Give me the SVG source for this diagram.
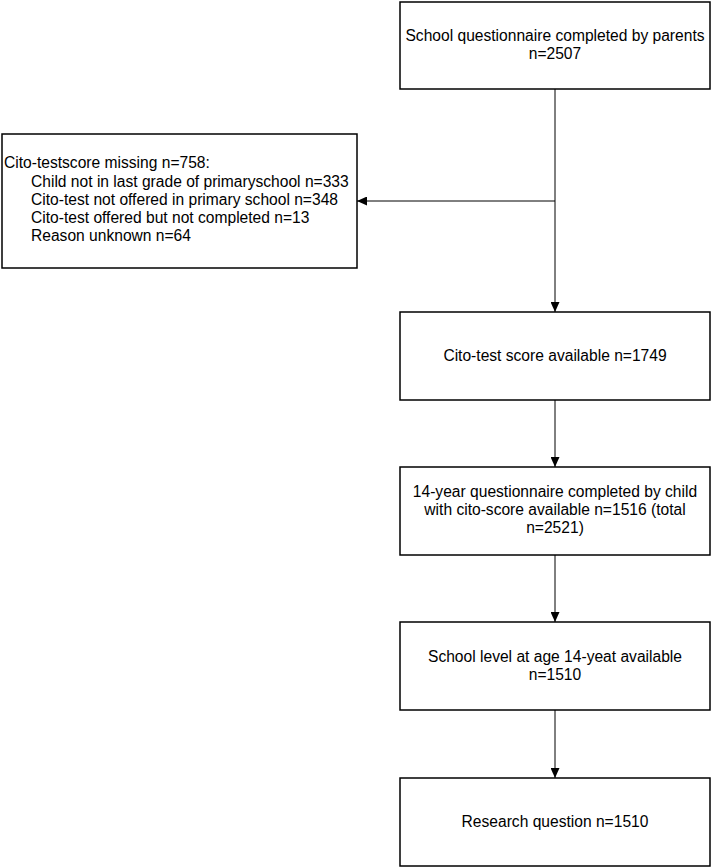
<svg xmlns="http://www.w3.org/2000/svg" width="712" height="868" viewBox="0 0 712 868">
<style>
.box{fill:#fff;stroke:#000;stroke-width:1.5}
text{font-family:"Liberation Sans",Arial,sans-serif;font-size:15.6px;fill:#000}
.c{text-anchor:middle}
.conn{stroke:#000;stroke-width:1;fill:none}
</style>
<defs>
<marker id="ah" markerWidth="10" markerHeight="9" refX="10" refY="4.5" orient="auto" markerUnits="userSpaceOnUse">
<path d="M0,0 L10,4.5 L0,9 Z" fill="#000"/>
</marker>
</defs>
<rect width="712" height="868" fill="#fff"/>
<g id="connectors">
<line class="conn" x1="555" y1="89" x2="555" y2="312" marker-end="url(#ah)"/>
<line class="conn" x1="555" y1="201" x2="357" y2="201" marker-end="url(#ah)"/>
<line class="conn" x1="555" y1="400" x2="555" y2="467" marker-end="url(#ah)"/>
<line class="conn" x1="555" y1="555" x2="555" y2="622" marker-end="url(#ah)"/>
<line class="conn" x1="555" y1="710" x2="555" y2="778" marker-end="url(#ah)"/>
</g>
<g id="n1">
<rect class="box" x="400" y="2" width="310" height="87"/>
<text class="c" x="555" y="41">School questionnaire completed by parents</text>
<text class="c" x="555" y="59">n=2507</text>
</g>
<g id="n_missing">
<rect class="box" x="2" y="134" width="355" height="134"/>
<text x="4" y="168">Cito-testscore missing n=758:</text>
<text x="31" y="187">Child not in last grade of primaryschool n=333</text>
<text x="31" y="205">Cito-test not offered in primary school n=348</text>
<text x="31" y="223">Cito-test offered but not completed n=13</text>
<text x="31" y="241">Reason unknown n=64</text>
</g>
<g id="n2">
<rect class="box" x="400" y="312" width="310" height="88"/>
<text class="c" x="555" y="361">Cito-test score available n=1749</text>
</g>
<g id="n3">
<rect class="box" x="400" y="467" width="310" height="88"/>
<text class="c" x="555" y="497">14-year questionnaire completed by child</text>
<text class="c" x="555" y="515">with cito-score available n=1516 (total</text>
<text class="c" x="555" y="533">n=2521)</text>
</g>
<g id="n4">
<rect class="box" x="400" y="622" width="310" height="88"/>
<text class="c" x="555" y="662">School level at age 14-yeat available</text>
<text class="c" x="555" y="680">n=1510</text>
</g>
<g id="n5">
<rect class="box" x="400" y="778" width="310" height="88"/>
<text class="c" x="555" y="827">Research question n=1510</text>
</g>
</svg>
